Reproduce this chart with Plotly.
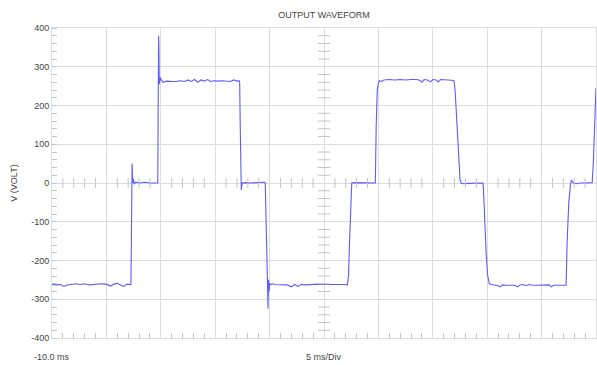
import plotly.graph_objects as go

# time (ms) and voltage (V)
time_ms = [
    -10.0, -9.6, -9.2, -8.9, -8.6, -8.2, -7.8, -7.4, -7.0, -6.6, -6.2, -5.8, -5.4, -5.0, -4.6, -4.3,
    -4.0, -3.7, -3.4, -3.1, -2.85, -2.75,
    -2.72, -2.68, -2.64, -2.58, -2.52, -2.45, -2.3, -2.0, -1.5, -1.0, -0.6, -0.35,
    -0.28, -0.25, -0.22, -0.20, -0.17, -0.14, -0.10, -0.05, 0.05, 0.2, 0.4,
    0.6, 1.0, 1.4, 1.8, 2.2, 2.5, 2.8, 3.1, 3.4, 3.7, 4.0, 4.3, 4.6, 4.9, 5.2, 5.6, 6.0, 6.4,
    6.7, 7.0, 7.2, 7.25,
    7.3, 7.35, 7.4, 7.45, 7.5, 7.8, 8.3, 8.8, 9.3, 9.55,
    9.6, 9.7, 9.8, 9.85, 9.9, 9.95, 10.0, 10.1, 10.3,
    10.5, 10.9, 11.3, 11.6, 12.0, 12.3, 12.6, 12.9, 13.3, 13.7, 14.1, 14.5, 14.9, 15.3, 15.7,
    16.1, 16.5, 16.9, 17.15,
    17.25, 17.35, 17.45, 17.55, 17.8, 18.3, 18.8, 19.3, 19.65,
    19.72, 19.8, 19.9, 20.0, 20.1, 20.3,
    20.5, 21.0, 21.5, 22.0, 22.5, 23.0, 23.5, 23.8, 24.0, 24.2, 24.5, 24.8, 25.0, 25.3, 25.5,
    25.7, 26.0, 26.4, 26.7, 26.9,
    26.95, 27.05, 27.2, 27.35, 27.5, 27.6, 27.8, 28.2, 28.6, 29.0, 29.4, 29.6,
    29.65, 29.75, 29.9, 30.05, 30.2,
    30.4, 30.7, 31.0, 31.2, 31.4, 31.8, 32.2, 32.5, 32.8, 33.0, 33.3, 33.6, 33.8, 34.2, 34.6,
    35.0, 35.4, 35.7, 35.9, 36.1, 36.5, 36.9, 37.2,
    37.25, 37.35, 37.5, 37.65, 37.75, 37.85, 37.95, 38.2, 38.5, 38.9, 39.3, 39.6,
    39.65, 39.75, 39.85, 40.0,
]
voltage_v = [
    -262, -263, -262, -267, -263, -262, -260, -262, -260, -263, -262, -262, -260, -261, -266, -261,
    -259, -263, -267, -261, -262, -262,
    -200, -20, 50, 0, 10, -3, 2, 0, 2, 0, 1, 0,
    0, 150, 300, 380, 340, 255, 262, 272, 266, 260, 262,
    263, 262, 262, 264, 262, 266, 262, 267, 260, 266, 263, 267, 262, 264, 263, 264, 263, 262,
    266, 263, 264, 260,
    150, 0, -18, -5, 0, 1, 0, 1, 2, 2,
    0, -100, -250, -324, -250, -280, -258, -262, -260,
    -262, -262, -262, -263, -268, -262, -267, -262, -263, -262, -262, -261, -262, -262, -261,
    -262, -261, -262, -263,
    -240, -150, -50, 0, 1, 1, 1, 1, 1,
    0, 150, 240, 258, 264, 262,
    266, 267, 266, 267, 266, 267, 267, 265, 260, 267, 266, 261, 267, 266, 261,
    267, 267, 266, 265, 264,
    264, 240, 150, 60, 10, 0, -2, -1, -1, -1, 0, 0,
    -10, -80, -180, -240, -260,
    -262, -263, -265, -268, -263, -264, -264, -264, -268, -263, -262, -265, -262, -264, -264,
    -264, -264, -263, -268, -264, -264, -264, -264,
    -264, -150, -50, -5, 8, 2, 0, -2, 0, 0, 1, 1,
    1, 50, 150, 245,
]

y_tick_values = [400, 300, 200, 100, 0, -100, -200, -300, -400]
x_range = [-10, 40]
y_range = [-400, 400]
x_major = 5
x_minor = 1
y_major = 100
y_minor = 20

GRID = "#dcdcdc"
TICK = "#c4c4c4"
TEXT = "#444444"
FONT = "Liberation Sans, Arial, sans-serif"

fig = go.Figure()
fig.add_trace(go.Scatter(
    x=time_ms, y=voltage_v, mode="lines",
    line=dict(color="#5c5cff", width=1.1),
    hoverinfo="x+y", showlegend=False,
))

# plot geometry for tick-length conversion
W, H = 597, 365
ML, MR, MT, MB = 52, 1, 28, 27
pw, ph = W - ML - MR, H - MT - MB
tl_px = 5
dy = tl_px * (y_range[1] - y_range[0]) / ph
dx = tl_px * (x_range[1] - x_range[0]) / pw
x_center = (x_range[0] + x_range[1]) / 2

shapes = []
# ticks along horizontal centre line (V = 0)
t = x_range[0]
while t <= x_range[1] + 1e-9:
    if abs((t - x_range[0]) % x_major) > 1e-9 and abs((t - x_range[0]) % x_major - x_major) > 1e-9:
        shapes.append(dict(type="line", xref="x", yref="y", x0=t, x1=t, y0=-dy, y1=dy,
                           line=dict(color=TICK, width=1)))
    t += x_minor
# ticks along vertical centre line
v = y_range[0]
while v <= y_range[1] + 1e-9:
    if v % y_major != 0:
        shapes.append(dict(type="line", xref="x", yref="y", x0=x_center - dx * 1.2, x1=x_center + dx * 1.2,
                           y0=v, y1=v, line=dict(color=TICK, width=1)))
    v += y_minor

fig.update_layout(
    width=W, height=H,
    margin=dict(l=ML, r=MR, t=MT, b=MB, autoexpand=False),
    paper_bgcolor="white", plot_bgcolor="white",
    font=dict(family=FONT, size=9, color=TEXT),
    title=dict(text="OUTPUT WAVEFORM", x=(ML + pw / 2) / W, xanchor="center",
               y=1 - 15 / H, yanchor="middle", font=dict(size=9, color=TEXT), automargin=False),
    shapes=shapes,
    annotations=[
        dict(text="-10.0 ms", x=x_range[0], xref="x", y=-19 / ph, yref="paper",
             xanchor="center", yanchor="middle", showarrow=False, font=dict(size=9, color=TEXT)),
        dict(text="5 ms/Div", x=x_center, xref="x", y=-19 / ph, yref="paper",
             xanchor="center", yanchor="middle", showarrow=False, font=dict(size=9, color=TEXT)),
    ],
)
fig.update_xaxes(
    range=x_range, dtick=x_major, tick0=x_range[0], automargin=False,
    showgrid=True, gridcolor=GRID, gridwidth=1,
    zeroline=False, showticklabels=False,
    showline=True, linecolor=GRID, mirror=True,
    ticks="", minor=dict(dtick=x_minor, tick0=x_range[0], ticks="inside", ticklen=tl_px,
                         tickcolor=TICK, showgrid=False),
)
fig.update_yaxes(
    range=y_range, tickvals=y_tick_values, ticktext=[str(v) for v in y_tick_values],
    automargin=False,
    showgrid=True, gridcolor=GRID, gridwidth=1,
    zeroline=False, showline=True, linecolor=GRID, mirror=True,
    ticks="", tickfont=dict(size=9, color=TEXT),
    minor=dict(dtick=y_minor, ticks="inside", ticklen=tl_px, tickcolor=TICK, showgrid=False),
    title=dict(text="V (VOLT)", font=dict(size=9, color=TEXT), standoff=12),
)

fig.write_html("out.html", config={"displayModeBar": False},
               post_script="document.body.style.margin='0';")
